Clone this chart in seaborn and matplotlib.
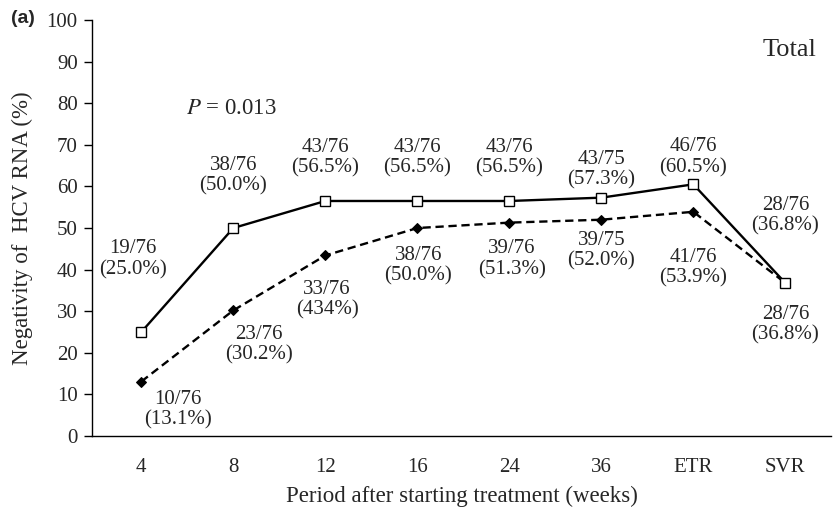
import matplotlib
matplotlib.use("Agg")
import matplotlib.pyplot as plt
import seaborn as sns
import pandas as pd
import numpy as np

categories = ["4", "8", "12", "16", "24", "36", "ETR", "SVR"]
open_vals = [25.0, 50.0, 56.5, 56.5, 56.5, 57.3, 60.5, 36.8]
dash_vals = [13.1, 30.2, 43.4, 50.0, 51.3, 52.0, 53.9, 36.8]
open_labels = ["19/76\n(25.0%)", "38/76\n(50.0%)", "43/76\n(56.5%)", "43/76\n(56.5%)",
               "43/76\n(56.5%)", "43/75\n(57.3%)", "46/76\n(60.5%)", "28/76\n(36.8%)"]
dash_labels = ["10/76\n(13.1%)", "23/76\n(30.2%)", "33/76\n(434%)", "38/76\n(50.0%)",
               "39/76\n(51.3%)", "39/75\n(52.0%)", "41/76\n(53.9%)", "28/76\n(36.8%)"]
yticks = list(range(0, 101, 10))

sns.set_style("ticks")
plt.rcParams["font.family"] = ["Liberation Serif", "DejaVu Serif"]

x = np.arange(len(categories))
df_open = pd.DataFrame({"x": x, "y": open_vals})
df_dash = pd.DataFrame({"x": x, "y": dash_vals})

fig = plt.figure(figsize=(8.33, 5.13), dpi=100)
ax = fig.add_axes([0.110, 0.150, 0.888, 0.811])

sns.lineplot(data=df_dash, x="x", y="y", ax=ax, color="black", lw=1.7,
             linestyle=(0, (3.5, 2)), marker="D", markersize=5.5,
             markerfacecolor="black", markeredgecolor="black", zorder=2)
sns.lineplot(data=df_open, x="x", y="y", ax=ax, color="black", lw=1.7,
             marker="s", markersize=7.5, markerfacecolor="white",
             markeredgecolor="black", markeredgewidth=1.0, zorder=3)

ax.set_xlim(-0.54, 7.5)
ax.set_ylim(0, 100)
ax.set_yticks(yticks)
ax.set_xticks(x)
ax.set_xticklabels(categories)
ax.tick_params(axis="y", length=6, width=1, labelsize=15, pad=4, color="black")
ax.tick_params(axis="x", length=0, labelsize=15, pad=16)
for s in ["top", "right"]:
    ax.spines[s].set_visible(False)
for s in ["left", "bottom"]:
    ax.spines[s].set_linewidth(1.0)
    ax.spines[s].set_color("black")

ax.set_xlabel("Period after starting treatment (weeks)", fontsize=16.5, labelpad=6)
ax.set_ylabel("Negativity of  HCV RNA (%)", fontsize=16.5, labelpad=10)

# label positions (data coords)
open_pos = [(-0.09, 42.5), (1.0, 62.5), (2.0, 66.8), (3.0, 66.8), (4.0, 66.8),
            (5.0, 64.0), (6.0, 67.0), (7.0, 53.0)]
dash_pos = [(0.40, 6.3), (1.28, 22.0), (2.02, 32.7), (3.01, 41.0), (4.03, 42.5),
            (5.0, 44.5), (6.0, 40.4), (7.0, 26.7)]
for (px, py), t in zip(open_pos, open_labels):
    ax.text(px, py, t, ha="center", va="center", fontsize=15, linespacing=1.1)
for (px, py), t in zip(dash_pos, dash_labels):
    ax.text(px, py, t, ha="center", va="center", fontsize=15, linespacing=1.1)

ax.text(0.98, 78.8, "$P$ = 0.013", ha="center", va="center", fontsize=16.5,
        math_fontfamily="stix")
ax.text(7.05, 92.8, "Total", ha="center", va="center", fontsize=19)
fig.text(0.013, 0.964, "(a)", ha="left", va="center", fontsize=14,
         fontweight="bold", family="Liberation Sans")

fig.savefig("out.png", dpi=100)
